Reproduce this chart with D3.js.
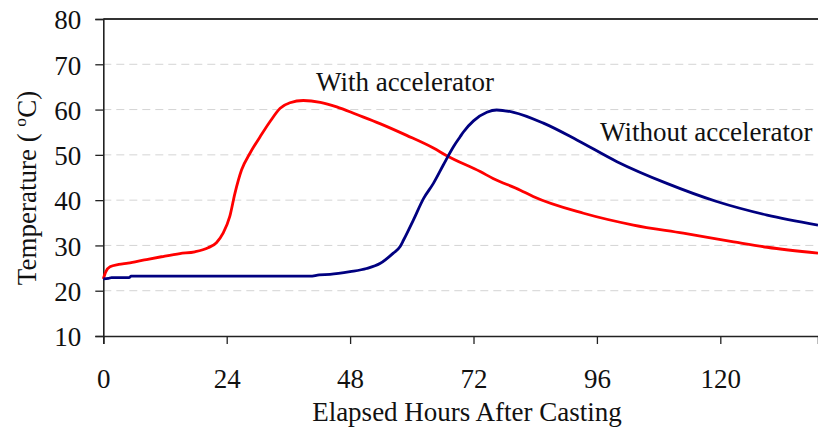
<!DOCTYPE html>
<html>
<head>
<meta charset="utf-8">
<script src="https://cdn.jsdelivr.net/npm/d3@7/dist/d3.min.js"></script>
<style>
  html, body { margin: 0; padding: 0; background: #fff; }
  svg { display: block; }
  text { font-family: "Liberation Serif", "Times New Roman", serif; fill: #111; }
</style>
</head>
<body>
<svg id="chart" width="818" height="427"></svg>
<script>
// Hydration temperature of concrete, hours after casting
const xTicks = [0, 24, 48, 72, 96, 120];
const yTicks = [10, 20, 30, 40, 50, 60, 70, 80];

const withAccelHours = [0, 0.5, 1.3, 3, 4.8, 8, 11.3, 14.9, 17.8, 20.4, 22, 23.3, 24.6, 25.6, 26.9, 28.5, 30.5, 32.4, 34.4, 36.3, 38.9, 42.2, 45.4, 49.3, 53.8, 59.0, 64.2, 66.8, 73.3, 75.8, 81.1, 83.6, 93.4, 103.1, 112.8, 122.6, 129.1, 139];
const withAccelTemp  = [22.6, 24.2, 25.3, 25.8, 26.1, 26.8, 27.5, 28.2, 28.6, 29.5, 30.6, 32.7, 36.4, 41.5, 46.7, 50.3, 54.0, 57.3, 60.3, 61.5, 62.0, 61.6, 60.6, 58.9, 56.9, 54.3, 51.5, 49.8, 46.3, 44.8, 42.2, 40.8, 37.1, 34.5, 32.7, 30.8, 29.6, 28.3];

const withoutAccelHours = [0, 1, 1.6, 5, 5.4, 40.2, 42, 44.1, 48, 51.2, 53.8, 56.4, 57.7, 58.4, 60.3, 62.3, 64.2, 66.1, 68.1, 69.4, 70, 72, 74.6, 76.5, 79.8, 85.6, 92.1, 99.9, 109.6, 119.3, 129.1, 139];
const withoutAccelTemp  = [22.6, 22.7, 22.9, 22.9, 23.2, 23.2, 23.5, 23.6, 24.2, 24.9, 26.0, 28.3, 29.7, 31.2, 35.6, 40.4, 43.7, 47.7, 51.8, 54.0, 55.0, 57.5, 59.4, 59.9, 59.4, 57.0, 53.3, 48.5, 43.7, 39.7, 36.7, 34.5];

const seriesNames = ["With accelerator", "Without accelerator"];

const svg = d3.select("#chart");
const fontSize = 27;

const x = d3.scaleLinear().domain([0, 139]).range([103.3, 818]);
const y = d3.scaleLinear().domain([10, 80]).range([336, 19]);

// dashed horizontal gridlines
svg.append("g")
  .selectAll("line")
  .data(yTicks.filter(v => v > 10 && v < 80))
  .join("line")
  .attr("x1", x(0)).attr("x2", 818)
  .attr("y1", d => y(d)).attr("y2", d => y(d))
  .attr("stroke", "#d4d4d4")
  .attr("stroke-width", 1)
  .attr("stroke-dasharray", "8,5");

// top frame line
svg.append("line")
  .attr("x1", x(0)).attr("x2", 818)
  .attr("y1", y(80)).attr("y2", y(80))
  .attr("stroke", "#333").attr("stroke-width", 2);

// axes
const yAxis = svg.append("g")
  .attr("transform", `translate(${x(0)},0)`)
  .call(d3.axisLeft(y).tickValues(yTicks).tickSize(8).tickPadding(14).tickFormat(d3.format("d")));
const xAxis = svg.append("g")
  .attr("transform", `translate(0,${y(10)})`)
  .call(d3.axisBottom(x).tickValues(xTicks).tickSize(8).tickPadding(25).tickFormat(d3.format("d")));

[yAxis, xAxis].forEach(g => {
  g.select(".domain").attr("stroke", "#222").attr("stroke-width", 1.6);
  g.selectAll(".tick line").attr("stroke", "#222").attr("stroke-width", 1.3);
  g.selectAll(".tick text")
    .attr("font-family", '"Liberation Serif", "Times New Roman", serif')
    .attr("font-size", fontSize)
    .attr("fill", "#111");
});
yAxis.selectAll(".tick text").attr("dy", "0.36em");

// lines
const line = d3.line().curve(d3.curveMonotoneX).x(d => x(d[0])).y(d => y(d[1]));

const series = [
  { name: seriesNames[0], pts: d3.zip(withAccelHours, withAccelTemp), color: "#ff0000" },
  { name: seriesNames[1], pts: d3.zip(withoutAccelHours, withoutAccelTemp), color: "#000080" }
];

svg.append("g")
  .selectAll("path")
  .data(series)
  .join("path")
  .attr("d", d => line(d.pts))
  .attr("fill", "none")
  .attr("stroke", d => d.color)
  .attr("stroke-width", 2.8)
  .attr("stroke-linejoin", "round");

// series labels
svg.append("text")
  .attr("x", 316).attr("y", 91)
  .attr("font-size", fontSize)
  .text(seriesNames[0]);
svg.append("text")
  .attr("x", 600).attr("y", 141)
  .attr("font-size", fontSize)
  .text(seriesNames[1]);

// axis titles
svg.append("text")
  .attr("x", 467).attr("y", 421)
  .attr("text-anchor", "middle")
  .attr("font-size", fontSize)
  .text("Elapsed Hours After Casting");

const yTitle = svg.append("text")
  .attr("transform", "translate(36,188) rotate(-90)")
  .attr("text-anchor", "middle")
  .attr("font-size", fontSize);
yTitle.append("tspan").text("Temperature ( ");
yTitle.append("tspan").attr("font-size", fontSize * 0.65).attr("dy", "-0.55em").text("o");
yTitle.append("tspan").attr("dy", "0.36em").text("C)");
</script>
</body>
</html>
